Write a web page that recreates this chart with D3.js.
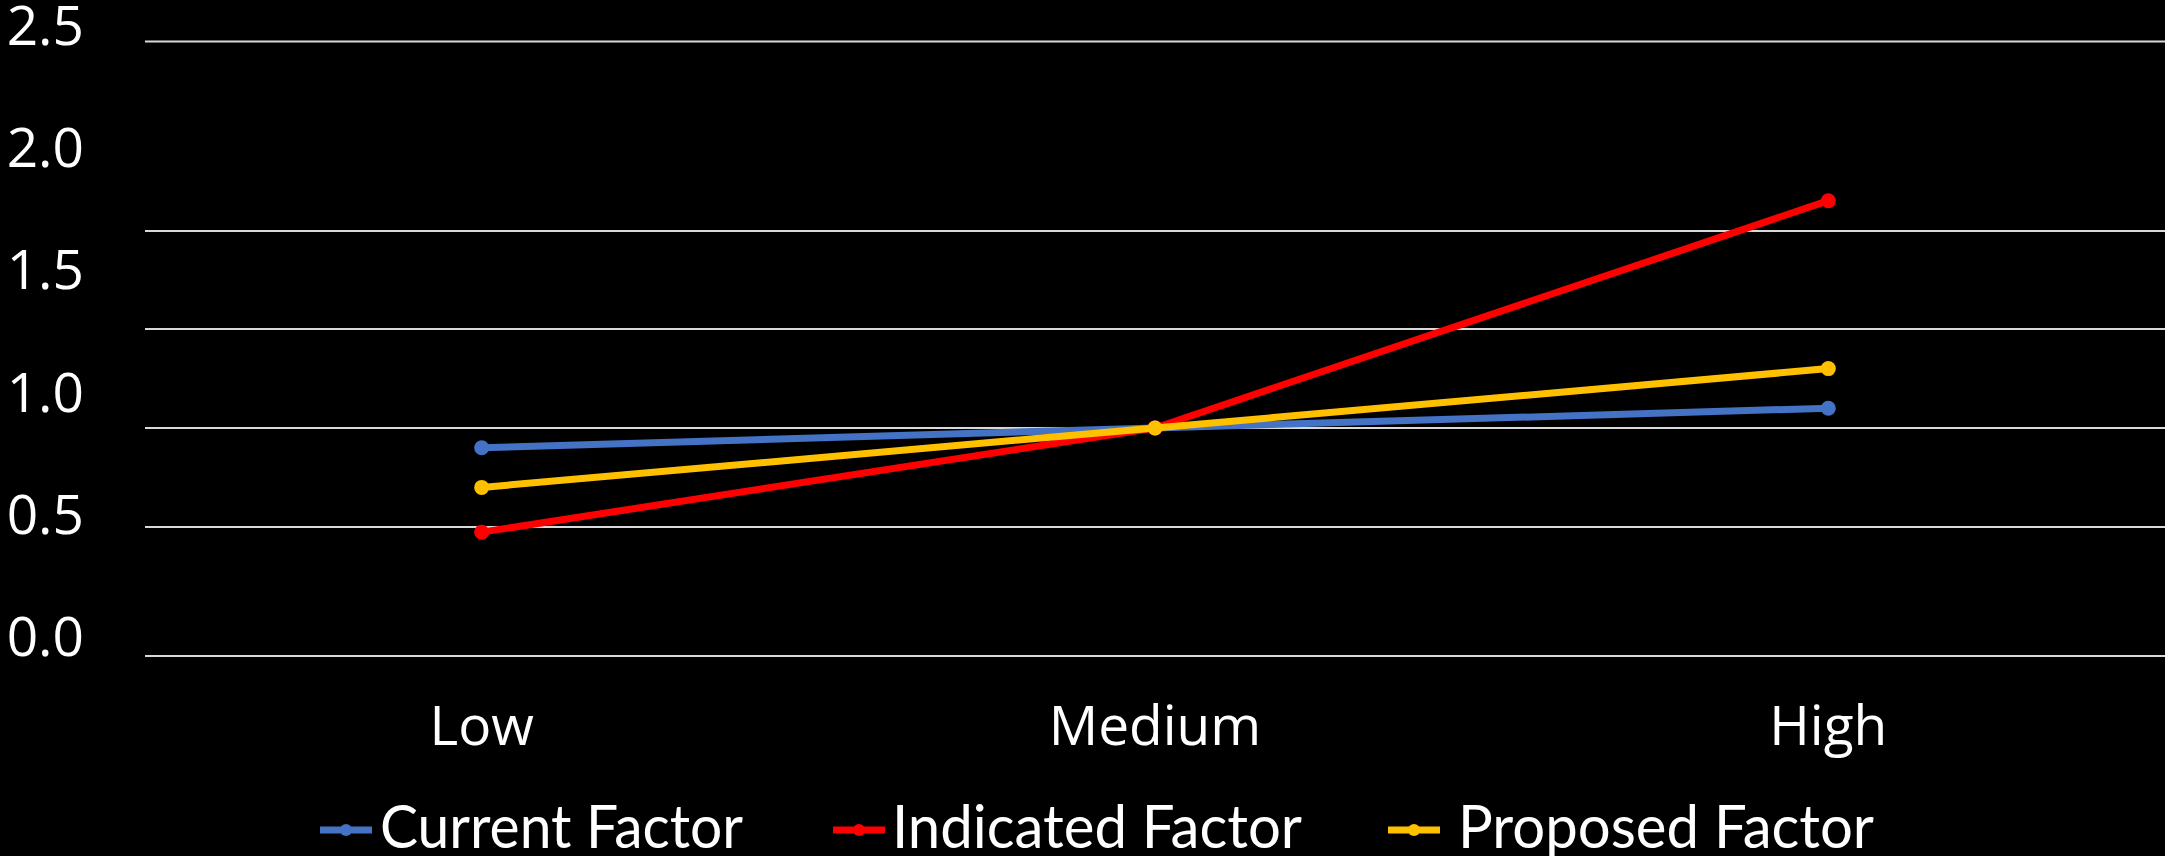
<!DOCTYPE html>
<html>
<head>
<meta charset="utf-8">
<script src="https://cdn.jsdelivr.net/npm/d3@7"></script>
<style>
  html, body { margin: 0; padding: 0; background: #000; }
  svg { display: block; }
</style>
</head>
<body>
<svg id="chart" width="2165" height="856"></svg>
<script>
const categories = ["Low", "Medium", "High"];
const seriesNames = ["Current Factor", "Indicated Factor", "Proposed Factor"];
const currentFactor = [0.90, 1.00, 1.10];
const indicatedFactor = [0.48, 1.00, 2.08];
const proposedFactor = [0.70, 1.00, 1.30];
const yTickValues = [0, 0.5, 1, 1.5, 2, 2.5];
const yTickLabels = ["0.0", "0.5", "1.0", "1.5", "2.0", "2.5"];
const seriesColors = ["#4472C4", "#FF0000", "#FFC000"];

const seriesValues = [currentFactor, indicatedFactor, proposedFactor];
const series = seriesNames.map((name, i) => ({
  name, color: seriesColors[i],
  values: categories.map((c, j) => ({ cat: c, v: seriesValues[i][j] }))
}));

const svg = d3.select("#chart");
const W = 2165, H = 856;
svg.append("rect").attr("width", W).attr("height", H).attr("fill", "#000");

const x = d3.scalePoint().domain(categories).range([145, 2165]).padding(0.5);
// value scale matched to the gridlines as drawn in the picture
const y = d3.scaleLinear().domain(yTickValues).range([656, 527, 428, 329, 231, 41.5]);
// label scale: labels are placed evenly on the left
const yLab = d3.scaleLinear().domain([0, 2.5]).range([636, 25]);

// gridlines
svg.append("g").selectAll("line").data(yTickValues).join("line")
  .attr("x1", 145).attr("x2", W)
  .attr("y1", d => y(d)).attr("y2", d => y(d))
  .attr("stroke", "#d9d9d9").attr("stroke-width", 2);

// y labels
svg.append("g").selectAll("text").data(yTickValues).join("text")
  .attr("x", 84).attr("y", d => yLab(d) + 20)
  .attr("text-anchor", "end")
  .attr("fill", "#fff")
  .style("font-family", "'Open Sans', 'Noto Sans', sans-serif")
  .style("font-size", "55px")
  .text((d, i) => yTickLabels[i]);

// x labels
svg.append("g").selectAll("text").data(categories).join("text")
  .attr("x", d => x(d)).attr("y", 745)
  .attr("text-anchor", "middle")
  .attr("fill", "#fff")
  .style("font-family", "'Open Sans', 'Noto Sans', sans-serif")
  .style("font-size", "55px")
  .text(d => d);

// lines
const line = d3.line().x(d => x(d.cat)).y(d => y(d.v));
const sg = svg.append("g").selectAll("g").data(series).join("g");
sg.append("path")
  .attr("d", d => line(d.values))
  .attr("fill", "none")
  .attr("stroke", d => d.color)
  .attr("stroke-width", 7)
  .attr("stroke-linejoin", "round");
sg.selectAll("circle").data(d => d.values.map(v => ({ ...v, color: d.color }))).join("circle")
  .attr("cx", d => x(d.cat)).attr("cy", d => y(d.v))
  .attr("r", 7.5)
  .attr("fill", d => d.color);

// legend
const legendItems = [
  { x0: 320, tx: 380, tw: 363 },
  { x0: 833, tx: 892, tw: 410 },
  { x0: 1388, tx: 1458, tw: 416 }
];
const lg = svg.append("g").selectAll("g").data(series).join("g");
lg.append("line")
  .attr("x1", (d, i) => legendItems[i].x0)
  .attr("x2", (d, i) => legendItems[i].x0 + 52)
  .attr("y1", 830).attr("y2", 830)
  .attr("stroke", d => d.color).attr("stroke-width", 7);
lg.append("circle")
  .attr("cx", (d, i) => legendItems[i].x0 + 26)
  .attr("cy", 830).attr("r", 6)
  .attr("fill", d => d.color);
lg.append("text")
  .attr("x", (d, i) => legendItems[i].tx)
  .attr("y", 848)
  .attr("fill", "#fff")
  .attr("textLength", (d, i) => legendItems[i].tw)
  .attr("lengthAdjust", "spacingAndGlyphs")
  .style("font-family", "'Liberation Sans Narrow', 'Lato', sans-serif")
  .style("font-size", "60px")
  .text(d => d.name);
</script>
</body>
</html>
